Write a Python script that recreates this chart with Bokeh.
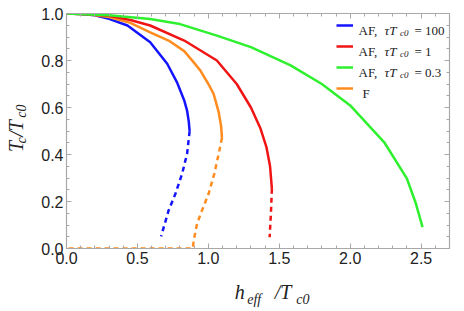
import numpy as np
from bokeh.plotting import figure
from bokeh.models import (Range1d, FixedTicker, PrintfTickFormatter, LinearAxis,
                          Label, Legend, LegendItem, CustomJSTickFormatter)
from bokeh.core.properties import value
from bokeh.embed import file_html
from bokeh.resources import INLINE

# ---------------- data ----------------
x_ticks = [0.0, 0.5, 1.0, 1.5, 2.0, 2.5]
y_ticks = [0.0, 0.2, 0.4, 0.6, 0.8, 1.0]

blue_solid_x = [0.0, 0.1, 0.2, 0.3, 0.43, 0.59, 0.71, 0.78, 0.83, 0.85, 0.862, 0.868]
blue_solid_y = [1.0, 0.998, 0.992, 0.977, 0.949, 0.878, 0.786, 0.706, 0.63, 0.587, 0.54, 0.499]
blue_dash_x = [0.868, 0.85, 0.815, 0.768, 0.72, 0.667]
blue_dash_y = [0.499, 0.403, 0.318, 0.233, 0.162, 0.052]

orange_solid_x = [0.0, 0.15, 0.3, 0.45, 0.59, 0.72, 0.83, 0.90, 0.944, 1.0, 1.037, 1.073, 1.09, 1.096]
orange_solid_y = [1.0, 0.997, 0.985, 0.96, 0.92, 0.885, 0.84, 0.79, 0.757, 0.70, 0.658, 0.58, 0.52, 0.471]
orange_dash_x = [1.096, 1.073, 1.042, 1.002, 0.955, 0.92, 0.897, 0.89, 0.0]
orange_dash_y = [0.471, 0.403, 0.318, 0.233, 0.162, 0.105, 0.034, 0.0, 0.0]

red_solid_x = [0.0, 0.15, 0.3, 0.45, 0.59, 0.83, 1.06, 1.2, 1.3, 1.366, 1.41, 1.435, 1.448]
red_solid_y = [1.0, 0.997, 0.99, 0.972, 0.949, 0.885, 0.80, 0.70, 0.60, 0.513, 0.43, 0.35, 0.254]
red_dash_x = [1.448, 1.441, 1.432]
red_dash_y = [0.254, 0.148, 0.048]

green_x = [0.0, 0.3, 0.59, 0.8, 1.06, 1.3, 1.58, 1.8, 2.0, 2.24, 2.4, 2.46, 2.51]
green_y = [1.0, 0.993, 0.977, 0.955, 0.906, 0.857, 0.779, 0.70, 0.609, 0.452, 0.297, 0.197, 0.091]

legend_values = ["100", "1", "0.3"]
legend_last = "F"

BLUE, RED, GREEN, ORANGE = "#1414ff", "#f01414", "#2ef02e", "#ff8c1f"

EM, EN, THIN, HAIR = "\u2003", "\u2002", "\u2009", "\u200a"
# axis titles: main letters and subscripts on two rows
x_title_main = EN + "h" + EM + EN + "/T"
x_title_sub = EM + EM + EN + THIN + THIN + "eff" + EM + EM + EN + "c0"
y_title_main = "T" + THIN + "/T" + EN
y_title_sub = EM + "c" + EM + THIN + THIN + "c0"

# ---------------- figure ----------------
FL, FT, FB = 66, 13, 248   # frame left/top/bottom in picture pixels
p = figure(frame_width=383, frame_height=235,
           min_border_left=FL, min_border_right=9, min_border_top=FT,
           min_border_bottom=62,
           x_range=Range1d(0, 2.7), y_range=Range1d(0, 1.0),
           output_backend="svg", toolbar_location=None)
p.grid.visible = False
p.outline_line_color = None

xt = FixedTicker(ticks=x_ticks, minor_ticks=list(np.round(np.arange(0, 2.71, 0.1), 2)))
yt = FixedTicker(ticks=y_ticks, minor_ticks=list(np.round(np.arange(0, 1.001, 0.05), 3)))

AX = "#a8a8a8"
TXT = "#222222"

def style(ax, show_labels):
    ax.axis_line_color = AX
    ax.axis_line_width = 1.2
    ax.major_tick_line_color = AX
    ax.minor_tick_line_color = AX
    ax.major_tick_in = 5
    ax.major_tick_out = 0
    ax.minor_tick_in = 3
    ax.minor_tick_out = 0
    if show_labels:
        ax.formatter = PrintfTickFormatter(format="%.1f")
        ax.major_label_text_font = "Liberation Sans"
        ax.major_label_text_font_size = "16px"
        ax.major_label_text_color = TXT
        ax.major_label_standoff = 3
    else:
        ax.formatter = CustomJSTickFormatter(code="return ''")
        ax.major_label_standoff = 0

def title_style(ax, text, size, standoff):
    ax.axis_label = text
    ax.axis_label_text_font = "Liberation Serif"
    ax.axis_label_text_font_style = "italic"
    ax.axis_label_text_font_size = size
    ax.axis_label_text_color = TXT
    ax.axis_label_standoff = standoff

def bare_axis():
    a = LinearAxis(ticker=FixedTicker(ticks=[]))
    a.axis_line_color = None
    a.major_tick_line_color = None
    a.minor_tick_line_color = None
    a.major_tick_out = 0
    a.major_tick_in = 0
    a.major_label_standoff = 0
    return a

xa, ya = p.xaxis[0], p.yaxis[0]
xa.ticker = xt
ya.ticker = yt
style(xa, True)
style(ya, True)
title_style(xa, x_title_main, "20px", 14)
title_style(ya, y_title_sub, "14px", 9)

xa2 = bare_axis()
title_style(xa2, x_title_sub, "14px", -14)
p.add_layout(xa2, "below")
ya2 = bare_axis()
title_style(ya2, y_title_main, "20px", -15)
p.add_layout(ya2, "left")

top = LinearAxis(ticker=xt)
right = LinearAxis(ticker=yt)
style(top, False)
style(right, False)
p.add_layout(top, "above")
p.add_layout(right, "right")

LW = 2.5
DASH = "5 4"
rb = p.line(blue_solid_x, blue_solid_y, line_color=BLUE, line_width=LW)
p.line(blue_dash_x, blue_dash_y, line_color=BLUE, line_width=LW, line_dash=DASH)
ro = p.line(orange_solid_x, orange_solid_y, line_color=ORANGE, line_width=LW)
p.line(orange_dash_x, orange_dash_y, line_color=ORANGE, line_width=LW, line_dash=DASH)
rr = p.line(red_solid_x, red_solid_y, line_color=RED, line_width=LW)
p.line(red_dash_x, red_dash_y, line_color=RED, line_width=LW, line_dash=DASH)
rg = p.line(green_x, green_y, line_color=GREEN, line_width=LW)

# ---------------- legend ----------------
leg = Legend(items=[LegendItem(label=value(""), renderers=[r]) for r in (rb, rr, rg, ro)],
             location=(336 - FL, FB - 98), glyph_width=17, glyph_height=20,
             label_height=20, label_width=1, label_standoff=0, spacing=1,
             padding=0, margin=0, label_text_font_size="13px",
             background_fill_alpha=0, border_line_alpha=0)
p.add_layout(leg)

def lab(px, py, text, size, italic=False):
    p.add_layout(Label(x=px - FL, y=FB - py, x_units="screen", y_units="screen",
                       text=text, text_font="Liberation Serif",
                       text_font_size=size, text_color=TXT,
                       text_font_style="italic" if italic else "normal",
                       text_align="left", text_baseline="alphabetic"))

rows = [25, 46, 67, 88]
for num, ry in zip(legend_values, rows):
    b = ry + 4.5
    lab(358, b, "AF,", "13px")
    lab(384, b, "τT", "13px", italic=True)
    lab(399.5, b + 2.5, "c0", "9px", italic=True)
    lab(414, b, "= " + num, "13px")
lab(362, rows[3] + 4.5, legend_last, "13px")

open("out.html", "w").write(file_html(p, INLINE))
